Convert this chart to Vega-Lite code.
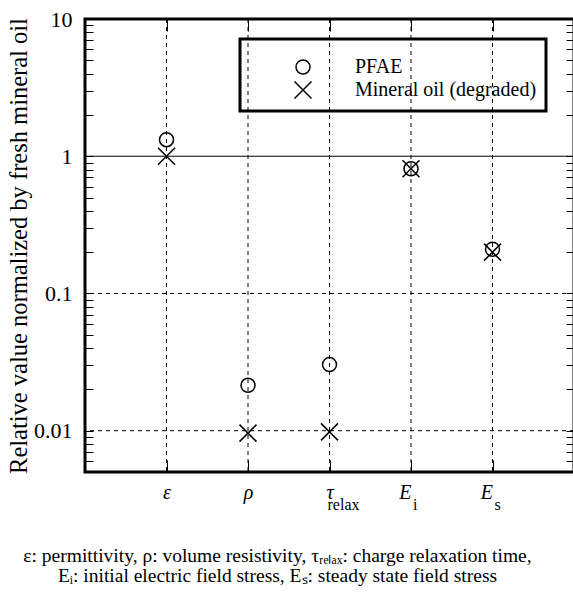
{
  "$schema": "https://vega.github.io/schema/vega-lite/v6.json",
  "autosize": "none",
  "width": 489,
  "height": 453,
  "padding": {"left": 85, "top": 19, "right": 0, "bottom": 123},
  "config": {
    "view": {"stroke": "black", "strokeWidth": 3},
    "font": "Liberation Serif",
    "axis": {"tickColor": "black", "tickWidth": 1, "labelColor": "black", "titleColor": "black"},
    "title": {"font": "Liberation Serif", "fontSize": 19.5, "fontWeight": "normal", "color": "black"},
    "legend": {"strokeWidth": 3, "strokeColor": "black"}
  },
  "title": {
    "text": ["ε: permittivity, ρ: volume resistivity, τᵣₑₗₐₓ: charge relaxation time,", "Eᵢ: initial electric field stress, Eₛ: steady state field stress"],
    "orient": "bottom",
    "anchor": "middle",
    "font": "Liberation Serif",
    "fontSize": 19.5,
    "fontWeight": "normal",
    "color": "black",
    "lineHeight": 20,
    "dx": -52,
    "offset": 34
  },
  "layer": [
    {
      "data": {"values": [{"param": "eps"}, {"param": "rho"}, {"param": "tau"}, {"param": "Ei"}, {"param": "Es"}]},
      "mark": {"type": "rule", "color": "black", "strokeWidth": 1, "strokeDash": [4, 4]},
      "encoding": {
        "x": {
          "field": "param", "type": "nominal",
          "scale": {"type": "point", "domain": ["eps", "rho", "tau", "Ei", "Es"], "padding": 1},
          "axis": {"orient": "top", "labels": false, "ticks": true, "tickSize": -12, "domain": false, "grid": false, "title": null}
        }
      }
    },
    {
      "data": {"values": [{"g": 0.01}, {"g": 0.1}, {"g": 1}]},
      "mark": {"type": "rule", "color": "black", "strokeWidth": 1},
      "encoding": {
        "y": {
          "field": "g", "type": "quantitative",
          "scale": {"type": "log", "domain": [0.005, 10], "nice": false},
          "axis": {
            "orient": "right", "labels": false, "tickSize": -8, "domain": false, "grid": false, "title": null,
            "values": [0.006, 0.007, 0.008, 0.009, 0.01, 0.02, 0.03, 0.04, 0.05, 0.06, 0.07, 0.08, 0.09, 0.1, 0.2, 0.3, 0.4, 0.5, 0.6, 0.7, 0.8, 0.9, 1, 2, 3, 4, 5, 6, 7, 8, 9, 10]
          }
        },
        "strokeDash": {"condition": {"test": "datum.g == 1", "value": [1, 0]}, "value": [4, 4]}
      }
    },
    {
      "data": {"values": [
        {"param": "eps", "series": "PFAE", "value": 1.32},
        {"param": "eps", "series": "Mineral oil (degraded)", "value": 1.0},
        {"param": "rho", "series": "PFAE", "value": 0.0214},
        {"param": "rho", "series": "Mineral oil (degraded)", "value": 0.0096},
        {"param": "tau", "series": "PFAE", "value": 0.0303},
        {"param": "tau", "series": "Mineral oil (degraded)", "value": 0.0098},
        {"param": "Ei", "series": "PFAE", "value": 0.81},
        {"param": "Ei", "series": "Mineral oil (degraded)", "value": 0.81},
        {"param": "Es", "series": "PFAE", "value": 0.21},
        {"param": "Es", "series": "Mineral oil (degraded)", "value": 0.2}
      ]},
      "mark": {"type": "point", "filled": false, "color": "black", "strokeWidth": 1.5, "opacity": 1},
      "encoding": {
        "x": {
          "field": "param", "type": "nominal",
          "scale": {"type": "point", "domain": ["eps", "rho", "tau", "Ei", "Es"], "padding": 1},
          "axis": {
            "orient": "bottom", "title": null, "domain": false, "grid": false, "tickSize": -12,
            "labelAngle": 0, "labelFont": "Liberation Serif", "labelFontStyle": "italic", "labelFontSize": 20, "labelPadding": 22,
            "labelAlign": {"condition": {"test": "datum.value == 'Ei' || datum.value == 'Es'", "value": "right"}, "value": "center"},
            "labelExpr": "datum.value == 'eps' ? 'ε' : datum.value == 'rho' ? 'ρ' : datum.value == 'tau' ? 'τ' : 'E'"
          }
        },
        "y": {
          "field": "value", "type": "quantitative",
          "scale": {"type": "log", "domain": [0.005, 10], "nice": false},
          "axis": {
            "orient": "left", "domain": false, "grid": false, "tickSize": -8,
            "values": [0.006, 0.007, 0.008, 0.009, 0.01, 0.02, 0.03, 0.04, 0.05, 0.06, 0.07, 0.08, 0.09, 0.1, 0.2, 0.3, 0.4, 0.5, 0.6, 0.7, 0.8, 0.9, 1, 2, 3, 4, 5, 6, 7, 8, 9, 10],
            "labelExpr": "indexof([0.01, 0.1, 1, 10], datum.value) >= 0 ? format(datum.value, '~g') : ''",
            "labelFont": "Liberation Serif", "labelFontSize": 22, "labelPadding": 21,
            "title": "Relative value normalized by fresh mineral oil",
            "titleFont": "Liberation Serif", "titleFontSize": 24.5, "titleFontWeight": "normal", "titlePadding": 2
          }
        },
        "shape": {
          "field": "series", "type": "nominal",
          "scale": {"domain": ["PFAE", "Mineral oil (degraded)"], "range": ["circle", "M-1,-1L1,1M-1,1L1,-1"]},
          "legend": {
            "orient": "none", "legendX": 155, "legendY": 20, "title": " ", "titleFontSize": 8, "titlePadding": 1,
            "labelFont": "Liberation Serif", "labelFontSize": 20, "labelColor": "black", "labelLimit": 400,
            "padding": 9, "symbolOffset": 44, "labelOffset": 42, "rowPadding": 1,
            "strokeColor": "black", "symbolStrokeColor": "black", "symbolFillColor": "transparent", "symbolStrokeWidth": 1.5,
            "encode": {"legend": {"update": {"strokeWidth": {"value": 3}}}}
          }
        },
        "size": {
          "field": "series", "type": "nominal",
          "scale": {"domain": ["PFAE", "Mineral oil (degraded)"], "range": [196, 289]},
          "legend": {
            "orient": "none", "legendX": 155, "legendY": 20, "title": " ", "titleFontSize": 8, "titlePadding": 1,
            "labelFont": "Liberation Serif", "labelFontSize": 20, "labelColor": "black", "labelLimit": 400,
            "padding": 9, "symbolOffset": 44, "labelOffset": 42, "rowPadding": 1,
            "strokeColor": "black", "symbolStrokeColor": "black", "symbolFillColor": "transparent", "symbolStrokeWidth": 1.5,
            "encode": {"legend": {"update": {"strokeWidth": {"value": 3}}}}
          }
        }
      }
    },
    {
      "data": {"values": [{"param": "tau", "sub": "relax"}]},
      "mark": {"type": "text", "font": "Liberation Serif", "fontSize": 16, "align": "left", "baseline": "alphabetic", "dx": -2, "color": "black"},
      "encoding": {
        "x": {"field": "param", "type": "nominal", "scale": {"type": "point", "domain": ["eps", "rho", "tau", "Ei", "Es"], "padding": 1}, "axis": null},
        "y": {"datum": 0.00265, "type": "quantitative", "axis": null},
        "text": {"field": "sub"}
      }
    },
    {
      "data": {"values": [{"param": "Ei", "sub": "i"}, {"param": "Es", "sub": "s"}]},
      "mark": {"type": "text", "font": "Liberation Serif", "fontSize": 16, "align": "left", "baseline": "alphabetic", "dx": 2, "color": "black"},
      "encoding": {
        "x": {"field": "param", "type": "nominal", "scale": {"type": "point", "domain": ["eps", "rho", "tau", "Ei", "Es"], "padding": 1}, "axis": null},
        "y": {"datum": 0.00265, "type": "quantitative", "axis": null},
        "text": {"field": "sub"}
      }
    }
  ],
  "resolve": {"axis": {"x": "independent", "y": "independent"}}
}
